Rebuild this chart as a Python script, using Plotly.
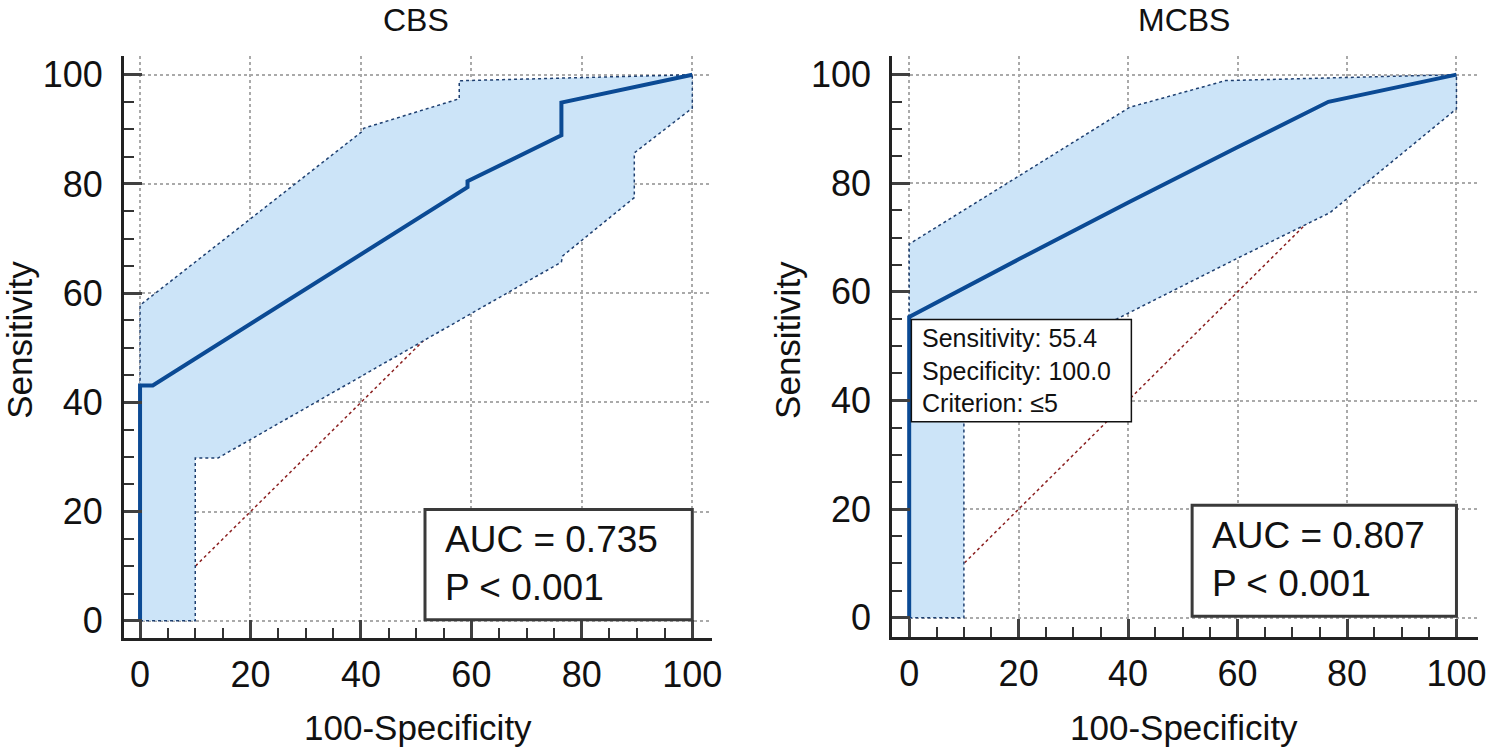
import plotly.graph_objects as go

# ---------------- data ----------------
tick_vals = [0, 20, 40, 60, 80, 100]

# CBS panel
cbs_roc_x = [0, 0, 2.3, 59.3, 59.3, 76.3, 76.3, 100]
cbs_roc_y = [0, 43.1, 43.1, 79.4, 80.5, 88.9, 94.9, 100]
cbs_upper_x = [0, 0, 40.2, 40.5, 57.8, 57.8, 100]
cbs_upper_y = [0, 57.8, 89.6, 90.2, 95.6, 98.9, 100]
cbs_lower_x = [0, 10, 10, 14.1, 76.3, 76.5, 89.5, 89.5, 100, 100]
cbs_lower_y = [0, 0, 29.8, 29.8, 65.7, 66.8, 77.5, 85.7, 93.9, 100]
cbs_auc_text = "AUC = 0.735<br>P < 0.001"

# MCBS panel
mcbs_roc_x = [0, 0, 20, 40.3, 59.7, 76.6, 100]
mcbs_roc_y = [0, 55.4, 66.0, 76.6, 86.5, 95.0, 100]
mcbs_upper_x = [0, 0, 40.3, 57.8, 100]
mcbs_upper_y = [0, 68.8, 94.0, 98.9, 100]
mcbs_lower_x = [0, 10, 10, 37.9, 60.0, 76.9, 100, 100]
mcbs_lower_y = [0, 0, 40.0, 55.0, 66.2, 74.6, 93.7, 100]
mcbs_auc_text = "AUC = 0.807<br>P < 0.001"
mcbs_point_text = "Sensitivity: 55.4<br>Specificity: 100.0<br>Criterion: ≤5"

diag_x = [0, 100]
diag_y = [0, 100]

# ---------------- style ----------------
FONT = "Arial, 'Liberation Sans', sans-serif"
ROC_COLOR = "#0B4A94"
FILL_COLOR = "#CCE4F8"
CI_COLOR = "#1E3F70"
DIAG_COLOR = "#8B2020"
W, H = 1489, 755
SX = 1.007  # horizontal calibration

fig = go.Figure()


def add_panel(xa, ya, rx, ry, ux, uy, lx, ly):
    fig.add_trace(go.Scatter(x=diag_x, y=diag_y, mode="lines", xaxis=xa, yaxis=ya,
                             line=dict(color=DIAG_COLOR, width=1.5, dash="dot"),
                             hoverinfo="skip", showlegend=False))
    band_x = list(ux) + list(lx)[::-1]
    band_y = list(uy) + list(ly)[::-1]
    fig.add_trace(go.Scatter(x=band_x, y=band_y, mode="lines", fill="toself",
                             fillcolor=FILL_COLOR, line=dict(width=0),
                             xaxis=xa, yaxis=ya, hoverinfo="skip", showlegend=False))
    fig.add_trace(go.Scatter(x=ux, y=uy, mode="lines", xaxis=xa, yaxis=ya,
                             line=dict(color=CI_COLOR, width=1.5, dash="dot"),
                             showlegend=False))
    fig.add_trace(go.Scatter(x=lx, y=ly, mode="lines", xaxis=xa, yaxis=ya,
                             line=dict(color=CI_COLOR, width=1.5, dash="dot"),
                             showlegend=False))
    fig.add_trace(go.Scatter(x=rx, y=ry, mode="lines", xaxis=xa, yaxis=ya,
                             line=dict(color=ROC_COLOR, width=4),
                             showlegend=False))


add_panel("x", "y", cbs_roc_x, cbs_roc_y, cbs_upper_x, cbs_upper_y, cbs_lower_x, cbs_lower_y)
add_panel("x2", "y2", mcbs_roc_x, mcbs_roc_y, mcbs_upper_x, mcbs_upper_y, mcbs_lower_x, mcbs_lower_y)


def axis_style(domain, rng, standoff):
    return dict(
        domain=domain, range=rng, showline=True, linewidth=3, linecolor="#222222",
        mirror=False, zeroline=False,
        tickmode="array", tickvals=tick_vals, ticks="inside", ticklen=18, tickwidth=3,
        tickcolor="#404040", tickfont=dict(family=FONT, size=36, color="#111111"),
        ticklabelstandoff=standoff,
        showgrid=True, gridcolor="#AAAAAA", griddash="dot", gridwidth=1.5,
        minor=dict(dtick=5, tick0=0, ticks="inside", ticklen=10, tickwidth=2,
                   tickcolor="#333333", showgrid=False),
    )


def px_x(p):
    return min(1.0, p * SX / W)


def px_y(p):
    return 1 - p / H


fig.update_layout(
    width=W, height=H, margin=dict(l=0, r=0, t=0, b=0),
    paper_bgcolor="white", plot_bgcolor="white", showlegend=False,
    font=dict(family=FONT, color="#111111"),
    xaxis=dict(axis_style([px_x(124), px_x(712)], [-2.9, 103.6], 3), anchor="y"),
    yaxis=dict(axis_style([px_y(641), px_y(55)], [-3.1, 103.5], 11), anchor="x"),
    xaxis2=dict(axis_style([px_x(892), px_x(1478)], [-3.1, 104.0], 3), anchor="y2"),
    yaxis2=dict(axis_style([px_y(640), px_y(55)], [-3.5, 103.5], 11), anchor="x2"),
)

# boxes
shapes = [
    dict(type="rect", xref="x", yref="y", x0=51.6, x1=100, y0=0.2, y1=20.4,
         fillcolor="white", line=dict(color="#3A3A3A", width=3), layer="above"),
    dict(type="rect", xref="x2", yref="y2", x0=51.7, x1=100, y0=0.3, y1=20.7,
         fillcolor="white", line=dict(color="#3A3A3A", width=3), layer="above"),
    dict(type="rect", xref="x2", yref="y2", x0=0.4, x1=40.6, y0=36.1, y1=54.9,
         fillcolor="white", line=dict(color="#111111", width=1.5), layer="above"),
]
fig.update_layout(shapes=shapes)

ann = []
ann.append(dict(text=cbs_auc_text, xref="x", yref="y", x=54.9, y=10.5, xanchor="left",
                yanchor="middle", align="left", showarrow=False,
                font=dict(family=FONT, size=37, color="#111111")))
ann.append(dict(text=mcbs_auc_text, xref="x2", yref="y2", x=55.0, y=10.7, xanchor="left",
                yanchor="middle", align="left", showarrow=False,
                font=dict(family=FONT, size=37, color="#111111")))
ann.append(dict(text=mcbs_point_text, xref="x2", yref="y2", x=2.0, y=45.5, xanchor="left",
                yanchor="middle", align="left", showarrow=False,
                font=dict(family=FONT, size=25, color="#111111")))

# panel titles (anchored at the top edge so they are not clipped)
for txt, x in [("CBS", 416), ("MCBS", 1184)]:
    ann.append(dict(text=txt, xref="paper", yref="paper", x=px_x(x), y=1.0,
                    xanchor="center", yanchor="top", showarrow=False, borderpad=0,
                    font=dict(family=FONT, size=32, color="#111111")))

# axis titles
for txt, x, y, ang in [("100-Specificity", 418, 731, 0), ("100-Specificity", 1184, 731, 0),
                       ("Sensitivity", 20, 341, -90), ("Sensitivity", 788, 341, -90)]:
    ann.append(dict(text=txt, xref="paper", yref="paper", x=px_x(x), y=px_y(y),
                    xanchor="center", yanchor="middle", showarrow=False, textangle=ang,
                    font=dict(family=FONT, size=35, color="#111111")))
fig.update_layout(annotations=ann)

fig.write_html("out.html")
